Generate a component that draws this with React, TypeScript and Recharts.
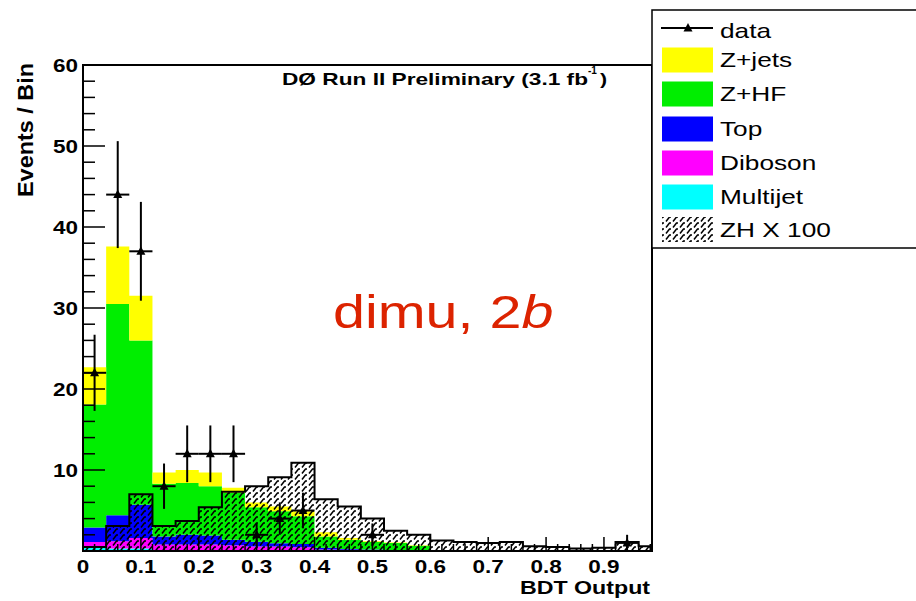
import React from "react";
import { ComposedChart, Area, Scatter, ErrorBar, XAxis, YAxis } from "recharts";

/* ── layout ── */
const W = 916;
const H = 601;
const PLOT_LEFT = 83;
const PLOT_RIGHT = 652;
const PLOT_TOP = 65;
const PLOT_BOTTOM = 551;
const X_AXIS_H = 40;
const Y_AXIS_W = 60;
const X_MAX = 0.983;
const Y_MAX = 60;
const FONT = "'Liberation Sans', Arial, Helvetica, sans-serif";
const STRETCH = 1.25; // the original picture is squeezed wider than tall

const C_ZJETS = "#ffff00";
const C_ZHF = "#00ee00";
const C_TOP = "#0000ff";
const C_DIBOSON = "#ff00ff";
const C_MULTIJET = "#00ffff";

/* ── data: 25 bins of width 0.04 ── */
const BIN_WIDTH = 0.04;
const binLow = [
  0, 0.04, 0.08, 0.12, 0.16, 0.2, 0.24, 0.28, 0.32, 0.36, 0.4, 0.44, 0.48,
  0.52, 0.56, 0.6, 0.64, 0.68, 0.72, 0.76, 0.8, 0.84, 0.88, 0.92, 0.96,
];
const multijet = [
  0.4, 0.3, 0.3, 0.1, 0.1, 0.1, 0.1, 0.05, 0.05, 0.05, 0, 0, 0, 0, 0, 0, 0, 0,
  0, 0, 0, 0, 0, 0, 0,
];
const diboson = [
  0.7, 0.9, 1.3, 0.7, 0.7, 0.7, 0.6, 0.5, 0.5, 0.4, 0.2, 0.15, 0.1, 0.05, 0.05,
  0, 0, 0, 0, 0, 0, 0, 0, 0, 0,
];
const top = [
  1.8, 3.2, 4.1, 1.0, 1.2, 1.1, 0.7, 0.6, 0.4, 0.4, 0.2, 0.1, 0.1, 0.05, 0.05,
  0, 0, 0, 0, 0, 0, 0, 0, 0, 0,
];
const zhf = [
  15.2, 26.1, 20.3, 6.5, 6.4, 6.1, 5.8, 4.25, 3.95, 3.45, 1.4, 1.15, 0.9, 0.9,
  0.55, 0.1, 0.05, 0.05, 0, 0, 0, 0, 0, 0, 0,
];
const zjets = [
  4.6, 7.1, 5.5, 1.4, 1.6, 1.7, 0.6, 0.6, 0.6, 0.6, 0.5, 0.2, 0.1, 0.05, 0.05,
  0, 0, 0, 0, 0, 0, 0, 0, 0, 0,
];
const zh100 = [
  0.5, 3.1, 7.0, 3.1, 3.7, 5.4, 7.3, 8.0, 9.1, 10.9, 6.4, 5.5, 4.0, 2.5, 2.0,
  1.3, 1.1, 1.0, 1.1, 0.6, 0.5, 0.3, 0.4, 1.1, 0.6,
];

const dataX = [0.02, 0.06, 0.1, 0.14, 0.18, 0.22, 0.26, 0.3, 0.34, 0.38, 0.5, 0.94];
const dataY = [22, 44, 37, 8, 12, 12, 12, 2, 4, 5, 2, 1];
const dataErr = [4.7, 6.6, 6.1, 2.8, 3.5, 3.5, 3.5, 1.4, 2.0, 2.2, 1.4, 1.0];

const xTickLabels = ["0", "0.1", "0.2", "0.3", "0.4", "0.5", "0.6", "0.7", "0.8", "0.9"];
const yTickLabels = ["", "10", "20", "30", "40", "50", "60"];

const legendItems = [
  { label: "Z+jets", color: C_ZJETS },
  { label: "Z+HF", color: C_ZHF },
  { label: "Top", color: C_TOP },
  { label: "Diboson", color: C_DIBOSON },
  { label: "Multijet", color: C_MULTIJET },
];

/* ── derived tables ── */
const histRows = binLow.map((x, i) => ({
  x,
  multijet: multijet[i],
  diboson: diboson[i],
  top: top[i],
  zhf: zhf[i],
  zjets: zjets[i],
  zh: zh100[i],
}));
// closing edge so the last step has a width
const last = histRows[histRows.length - 1];
histRows.push({ ...last, x: last.x + BIN_WIDTH });

const points = dataX.map((x, i) => ({
  x,
  y: dataY[i],
  ey: dataErr[i],
  ex: BIN_WIDTH / 2,
}));

const xTicks = Array.from({ length: 50 }, (_, i) => +(i * 0.02).toFixed(2));
const yTicks = Array.from({ length: 31 }, (_, i) => i * 2);

/* ── axis ticks drawn inside the frame, ROOT style ── */
function XTick(props: any) {
  const { x, payload } = props;
  const v = payload.value as number;
  const idx = Math.round(v * 10);
  const major = Math.abs(v * 10 - idx) < 1e-6;
  return (
    <g>
      <line
        x1={x}
        x2={x}
        y1={PLOT_BOTTOM}
        y2={PLOT_BOTTOM - (major ? 14 : 7)}
        stroke="#000"
        strokeWidth={1.5}
      />
      {major && (
        <text
          transform={`translate(${x},${PLOT_BOTTOM + 22}) scale(${STRETCH},1)`}
          textAnchor="middle"
          fontFamily={FONT}
          fontWeight="bold"
          fontSize={18}
          fill="#000"
        >
          {xTickLabels[idx]}
        </text>
      )}
    </g>
  );
}

function YTick(props: any) {
  const { y, payload } = props;
  const v = payload.value as number;
  const major = v % 10 === 0;
  return (
    <g>
      <line
        x1={PLOT_LEFT}
        x2={PLOT_LEFT + (major ? 22 : 12)}
        y1={y}
        y2={y}
        stroke="#000"
        strokeWidth={1.5}
      />
      {major && (
        <text
          transform={`translate(${PLOT_LEFT - 5},${y + 7}) scale(${STRETCH},1)`}
          textAnchor="end"
          fontFamily={FONT}
          fontWeight="bold"
          fontSize={18}
          fill="#000"
        >
          {yTickLabels[v / 10]}
        </text>
      )}
    </g>
  );
}

function Triangle(props: any) {
  const { cx, cy } = props;
  if (cx == null || cy == null) return null;
  return (
    <polygon
      points={`${cx},${cy - 5} ${cx - 4.5},${cy + 3.5} ${cx + 4.5},${cy + 3.5}`}
      fill="#000"
    />
  );
}

function HatchPattern({ id }: { id: string }) {
  return (
    <pattern id={id} patternUnits="userSpaceOnUse" width={7} height={6}>
      <path d="M1,5.5 L4.5,1 L6,1" stroke="#000" strokeWidth={1.5} fill="none" />
    </pattern>
  );
}

/* ── overlay: frame, titles, legend ── */
function Overlay() {
  const rowY = [60, 94, 129, 163, 197];
  return (
    <svg
      width={W}
      height={H}
      style={{ position: "absolute", left: 0, top: 0, pointerEvents: "none" }}
    >
      <defs>
        <HatchPattern id="hatchLegend" />
      </defs>
      <rect
        x={PLOT_LEFT}
        y={PLOT_TOP}
        width={PLOT_RIGHT - PLOT_LEFT}
        height={PLOT_BOTTOM - PLOT_TOP}
        fill="none"
        stroke="#000"
        strokeWidth={2}
      />
      <text
        x={282}
        y={85}
        textLength={306}
        lengthAdjust="spacingAndGlyphs"
        fontFamily={FONT}
        fontWeight="bold"
        fontSize={17}
        fill="#000"
      >
        DØ Run II Preliminary (3.1 fb
      </text>
      <text x={588} y={74} fontFamily={FONT} fontWeight="bold" fontSize={10} fill="#000">
        -1
      </text>
      <text
        transform={`translate(600,85) scale(${STRETCH},1)`}
        fontFamily={FONT}
        fontWeight="bold"
        fontSize={17}
        fill="#000"
      >
        )
      </text>
      <text
        transform={`translate(33,130) rotate(-90)`}
        textAnchor="middle"
        textLength={134}
        lengthAdjust="spacingAndGlyphs"
        fontFamily={FONT}
        fontWeight="bold"
        fontSize={22}
        fill="#000"
      >
        Events / Bin
      </text>
      <text
        x={520}
        y={594}
        textLength={130}
        lengthAdjust="spacingAndGlyphs"
        fontFamily={FONT}
        fontWeight="bold"
        fontSize={18}
        fill="#000"
      >
        BDT Output
      </text>
      <text
        transform={`translate(333,328) scale(${STRETCH},1)`}
        fontFamily={FONT}
        fontSize={46}
        fill="#dc2300"
      >
        dimu, 2<tspan fontStyle="italic">b</tspan>
      </text>

      {/* legend */}
      <rect x={652} y={10} width={300} height={238} fill="#fff" stroke="#000" strokeWidth={1.5} />
      <line x1={661} x2={713} y1={28} y2={28} stroke="#000" strokeWidth={2} />
      <polygon points="688,23 683.5,31.5 692.5,31.5" fill="#000" />
      <text
        transform={`translate(720,38) scale(${STRETCH},1)`}
        fontFamily={FONT}
        fontSize={21}
        fill="#000"
      >
        data
      </text>
      {legendItems.map((it, i) => (
        <g key={it.label}>
          <rect x={662} y={rowY[i] - 12.5} width={51} height={25} fill={it.color} />
          <text
            transform={`translate(720,${rowY[i] + 7}) scale(${STRETCH},1)`}
            fontFamily={FONT}
            fontSize={21}
            fill="#000"
          >
            {it.label}
          </text>
        </g>
      ))}
      <rect x={662} y={217} width={51} height={25} fill="url(#hatchLegend)" />
      <text
        transform={`translate(720,237) scale(${STRETCH},1)`}
        fontFamily={FONT}
        fontSize={21}
        fill="#000"
      >
        ZH X 100
      </text>
    </svg>
  );
}

function App() {
  return (
    <div
      style={{
        position: "absolute",
        left: 0,
        top: 0,
        width: W,
        height: H,
        background: "#fff",
      }}
    >
      <ComposedChart
        width={W}
        height={H}
        data={histRows}
        margin={{
          top: PLOT_TOP,
          right: W - PLOT_RIGHT,
          bottom: H - PLOT_BOTTOM - X_AXIS_H,
          left: PLOT_LEFT - Y_AXIS_W,
        }}
      >
        <defs>
          <HatchPattern id="hatchZH" />
        </defs>
        <XAxis
          type="number"
          dataKey="x"
          domain={[0, X_MAX]}
          allowDataOverflow
          ticks={xTicks}
          interval={0}
          tick={(p: any) => <XTick {...p} />}
          tickLine={false}
          axisLine={false}
          height={X_AXIS_H}
        />
        <YAxis
          type="number"
          domain={[0, Y_MAX]}
          allowDataOverflow
          ticks={yTicks}
          interval={0}
          tick={(p: any) => <YTick {...p} />}
          tickLine={false}
          axisLine={false}
          width={Y_AXIS_W}
        />
        <Area type="stepAfter" dataKey="multijet" stackId="bkg" stroke="none" fill={C_MULTIJET} fillOpacity={1} isAnimationActive={false} />
        <Area type="stepAfter" dataKey="diboson" stackId="bkg" stroke="none" fill={C_DIBOSON} fillOpacity={1} isAnimationActive={false} />
        <Area type="stepAfter" dataKey="top" stackId="bkg" stroke="none" fill={C_TOP} fillOpacity={1} isAnimationActive={false} />
        <Area type="stepAfter" dataKey="zhf" stackId="bkg" stroke="none" fill={C_ZHF} fillOpacity={1} isAnimationActive={false} />
        <Area type="stepAfter" dataKey="zjets" stackId="bkg" stroke="none" fill={C_ZJETS} fillOpacity={1} isAnimationActive={false} />
        <Area
          type="stepAfter"
          dataKey="zh"
          stroke="#000"
          strokeWidth={2}
          fill="url(#hatchZH)"
          fillOpacity={1}
          isAnimationActive={false}
        />
        <Scatter data={points} dataKey="y" shape={<Triangle />} isAnimationActive={false}>
          <ErrorBar dataKey="ey" direction="y" width={0} stroke="#000" strokeWidth={2} />
          <ErrorBar dataKey="ex" direction="x" width={0} stroke="#000" strokeWidth={2} />
        </Scatter>
      </ComposedChart>
      <Overlay />
    </div>
  );
}

export default App;
